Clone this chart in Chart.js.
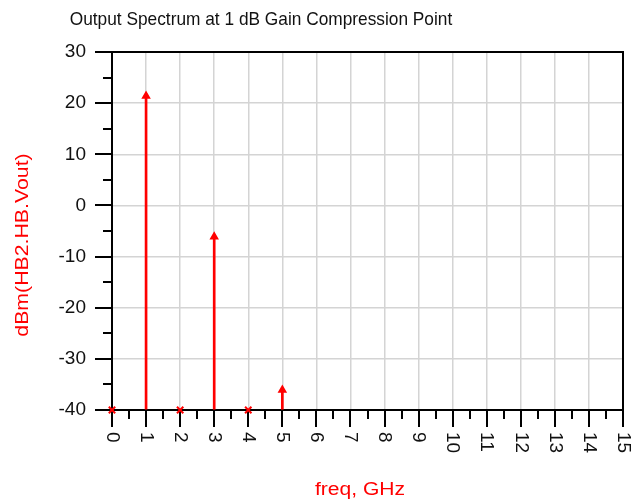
<!DOCTYPE html>
<html>
<head>
<meta charset="utf-8">
<title>Output Spectrum at 1 dB Gain Compression Point</title>
<script src="https://cdn.jsdelivr.net/npm/chart.js@4.4.0/dist/chart.umd.min.js"></script>
<style>
  html, body { margin: 0; padding: 0; background: #fff; }
  canvas { display: block; }
</style>
</head>
<body>
<canvas id="spectrum" width="634" height="504"></canvas>
<script>
// harmonics (-40 = below the bottom of the scale)
const freqGHz = [0, 1, 2, 3, 4, 5];
const powerDbm = [-40, 21.4, -40, -6.1, -40, -36.1];
const xTickLabels = ['0', '1', '2', '3', '4', '5', '6', '7', '8', '9', '10', '11', '12', '13', '14', '15'];
const yTickValues = [-40, -30, -20, -10, 0, 10, 20, 30];

const RED = '#ff0000';
const INK = '#111111';
const GRID = '#d4d4d4';
const FONT = '"Liberation Sans", Arial, sans-serif';

const points = freqGHz.map((f, i) => ({ x: f, y: powerDbm[i] }));

// draw text with optional horizontal stretch and rotation
function drawText(ctx, text, x, y, size, sx, angle, align, color) {
  ctx.save();
  ctx.translate(x, y);
  ctx.rotate(angle);
  ctx.scale(sx, 1);
  ctx.font = size + 'px ' + FONT;
  ctx.fillStyle = color;
  ctx.textAlign = align;
  ctx.textBaseline = 'middle';
  ctx.fillText(text, 0, 0);
  ctx.restore();
}

/**
 * Frame, major/minor ticks (ADS style) under the data
 */
const adsFrame = {
  id: 'adsFrame',
  beforeDatasetsDraw(chart) {
    const { ctx, chartArea: a, scales: { x, y } } = chart;
    ctx.save();
    ctx.strokeStyle = '#000';
    ctx.lineWidth = 2;
    ctx.beginPath();
    for (let v = yTickValues[0]; v <= yTickValues[yTickValues.length - 1]; v += 5) {
      const py = Math.round(y.getPixelForValue(v));
      const len = v % 10 === 0 ? 17 : 9;
      ctx.moveTo(a.left - len, py);
      ctx.lineTo(a.left, py);
    }
    for (let v = 0; v <= xTickLabels.length - 1; v += 0.5) {
      const px = Math.round(x.getPixelForValue(v));
      const len = Number.isInteger(v) ? 17 : 9;
      ctx.moveTo(px, a.bottom);
      ctx.lineTo(px, a.bottom + len);
    }
    ctx.stroke();
    ctx.strokeRect(a.left, a.top, a.right - a.left, a.bottom - a.top);
    ctx.restore();
  },
  afterDraw(chart) {
    const { ctx, chartArea: a, scales: { x } } = chart;
    // rotated x tick labels, reading top to bottom
    xTickLabels.forEach((lbl, i) => {
      drawText(ctx, lbl, x.getPixelForValue(i), a.bottom + 22, 19, 1, Math.PI / 2, 'left', INK);
    });
    drawText(ctx, 'Output Spectrum at 1 dB Gain Compression Point', 261, 20, 19, 0.91, 0, 'center', INK);
    drawText(ctx, 'dBm(HB2.HB.Vout)', 23, 245, 19, 1.12, -Math.PI / 2, 'center', RED);
    drawText(ctx, 'freq, GHz', 360, 490, 18, 1.17, 0, 'center', RED);
  }
};

new Chart(document.getElementById('spectrum'), {
  type: 'bar',
  data: {
    datasets: [{
      type: 'bar',
      data: points,
      base: -40,
      barThickness: 2,
      backgroundColor: RED,
      borderWidth: 0,
      order: 2
    }, {
      type: 'scatter',
      data: points,
      pointStyle: powerDbm.map(v => v <= -40 ? 'crossRot' : 'triangle'),
      pointRadius: powerDbm.map(v => v <= -40 ? 4.5 : 3.5),
      backgroundColor: RED,
      borderColor: RED,
      borderWidth: 2,
      clip: false,
      order: 1
    }]
  },
  options: {
    responsive: false,
    animation: false,
    layout: { padding: { top: 52, right: 11, left: 0, bottom: 0 } },
    plugins: {
      legend: { display: false },
      tooltip: { enabled: false },
      title: { display: false }
    },
    scales: {
      x: {
        type: 'linear',
        min: 0,
        max: 15,
        offset: false,
        ticks: { stepSize: 1, display: false },
        grid: { offset: false, color: GRID, lineWidth: 1.5, drawTicks: false },
        border: { display: false },
        afterFit: (scale) => { scale.height = 94; }
      },
      y: {
        min: -40,
        max: 30,
        ticks: {
          stepSize: 10,
          padding: 26,
          color: INK,
          font: { size: 19, family: FONT }
        },
        grid: { color: GRID, lineWidth: 1.5, drawTicks: false },
        border: { display: false },
        afterFit: (scale) => { scale.width = 112; }
      }
    }
  },
  plugins: [adsFrame]
});
</script>
</body>
</html>
